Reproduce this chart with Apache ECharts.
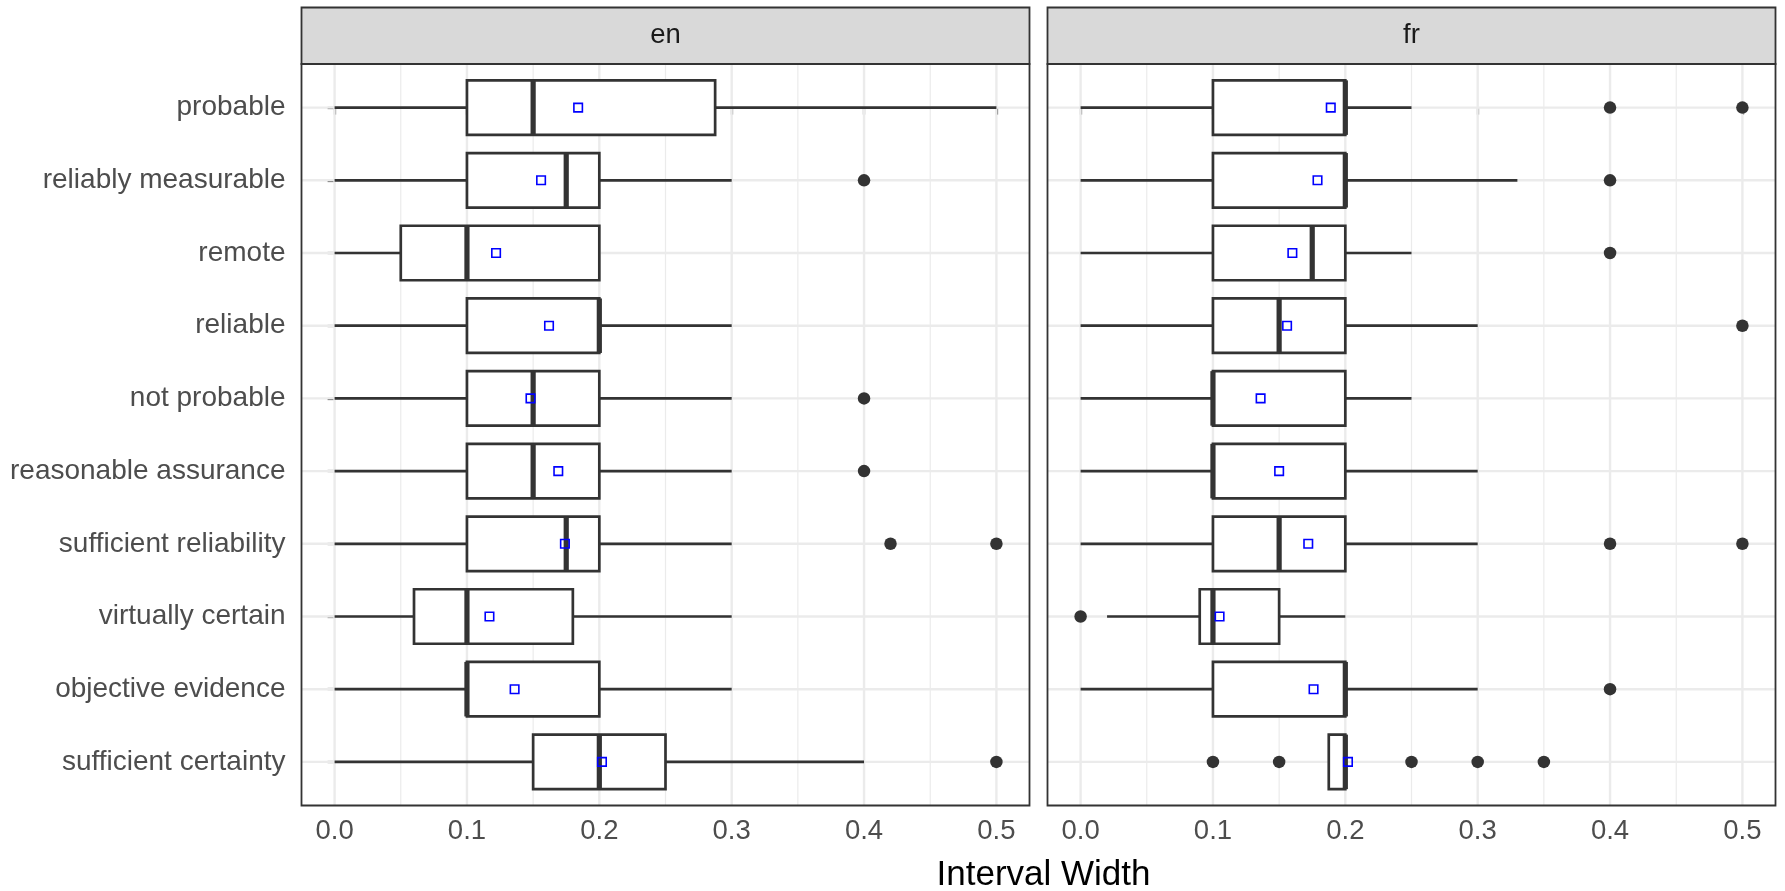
<!DOCTYPE html>
<html>
<head>
<meta charset="utf-8">
<script src="https://cdn.jsdelivr.net/npm/echarts@6/dist/echarts.min.js"></script>
<style>
html,body{margin:0;padding:0;background:#fff;}
#chart{width:1785px;height:891px;}
</style>
</head>
<body>
<div id="chart"></div>
<script>
// ---------- data ----------
const categories = ['probable','reliably measurable','remote','reliable','not probable',
  'reasonable assurance','sufficient reliability','virtually certain','objective evidence','sufficient certainty'];
const panels = ['en','fr'];
const xTicks = [0, 0.1, 0.2, 0.3, 0.4, 0.5];
const xMinor = [0.05, 0.15, 0.25, 0.35, 0.45];

const enLow  = [0, 0, 0, 0, 0, 0, 0, 0, 0, 0];
const enQ1   = [0.1, 0.1, 0.05, 0.1, 0.1, 0.1, 0.1, 0.06, 0.1, 0.15];
const enMed  = [0.15, 0.175, 0.1, 0.2, 0.15, 0.15, 0.175, 0.1, 0.1, 0.2];
const enQ3   = [0.2875, 0.2, 0.2, 0.2, 0.2, 0.2, 0.2, 0.18, 0.2, 0.25];
const enHigh = [0.5, 0.3, 0.2, 0.3, 0.3, 0.3, 0.3, 0.3, 0.3, 0.4];
const enMean = [0.184, 0.156, 0.122, 0.162, 0.148, 0.169, 0.174, 0.117, 0.136, 0.202];
const enOutliers = [[], [0.4], [], [], [0.4], [0.4], [0.42, 0.5], [], [], [0.5]];

const frLow  = [0, 0, 0, 0, 0, 0, 0, 0.02, 0, 0.1875];
const frQ1   = [0.1, 0.1, 0.1, 0.1, 0.1, 0.1, 0.1, 0.09, 0.1, 0.1875];
const frMed  = [0.2, 0.2, 0.175, 0.15, 0.1, 0.1, 0.15, 0.1, 0.2, 0.2];
const frQ3   = [0.2, 0.2, 0.2, 0.2, 0.2, 0.2, 0.2, 0.15, 0.2, 0.2];
const frHigh = [0.25, 0.33, 0.25, 0.3, 0.25, 0.3, 0.3, 0.2, 0.3, 0.2];
const frMean = [0.189, 0.179, 0.160, 0.156, 0.136, 0.150, 0.172, 0.105, 0.176, 0.202];
const frOutliers = [[0.4, 0.5], [0.4], [0.4], [0.5], [], [], [0.4, 0.5], [0], [0.4], [0.1, 0.15, 0.25, 0.3, 0.35]];

// ---------- build ----------
const FONT = "'Liberation Sans', Arial, sans-serif";
const DARK = '#333333';
const catIdx = categories.map((c, i) => i);

const langData = [
  {low: enLow, q1: enQ1, med: enMed, q3: enQ3, high: enHigh, mean: enMean, out: enOutliers},
  {low: frLow, q1: frQ1, med: frMed, q3: frQ3, high: frHigh, mean: frMean, out: frOutliers}
];

function gridLineRender(params, api) {
  const cs = params.coordSys;
  const kind = api.value(2);
  if (kind === 2) {
    const y = api.coord([0, api.value(1)])[1];
    return {type: 'line', shape: {x1: cs.x, y1: y, x2: cs.x + cs.width, y2: y},
      style: {stroke: '#EBEBEB', lineWidth: 2.4}};
  }
  const x = api.coord([api.value(0), 0])[0];
  return {type: 'line', shape: {x1: x, y1: cs.y, x2: x, y2: cs.y + cs.height},
    style: {stroke: '#EBEBEB', lineWidth: kind === 0 ? 2.4 : 1.2}};
}

function boxRender(params, api) {
  const c = api.value(0);
  const band = api.size([0, 1])[1];
  const half = band * 0.75 / 2;
  const y = api.coord([0, c])[1];
  const xl = api.coord([api.value(1), c])[0];
  const x1 = api.coord([api.value(2), c])[0];
  const xm = api.coord([api.value(3), c])[0];
  const x3 = api.coord([api.value(4), c])[0];
  const xh = api.coord([api.value(5), c])[0];
  const st = {stroke: DARK, lineWidth: 2.7, fill: null};
  const children = [];
  if (x1 - xl > 0.5) children.push({type: 'line', shape: {x1: xl, y1: y, x2: x1, y2: y}, style: st});
  if (xh - x3 > 0.5) children.push({type: 'line', shape: {x1: x3, y1: y, x2: xh, y2: y}, style: st});
  children.push({type: 'rect', shape: {x: x1, y: y - half, width: x3 - x1, height: 2 * half},
    style: {fill: '#fff', stroke: DARK, lineWidth: 2.7}});
  children.push({type: 'line', shape: {x1: xm, y1: y - half, x2: xm, y2: y + half},
    style: {stroke: DARK, lineWidth: 5.2}});
  return {type: 'group', children};
}

function frameRender(params, api) {
  const cs = params.coordSys;
  const sh = 56.5;
  return {type: 'group', children: [
    {type: 'rect', shape: {x: cs.x, y: cs.y - sh, width: cs.width, height: sh},
      style: {fill: '#D9D9D9', stroke: DARK, lineWidth: 1.8}},
    {type: 'text', style: {text: panels[api.value(2)],
      x: cs.x + cs.width / 2, y: cs.y - sh / 2, align: 'center', verticalAlign: 'middle',
      textAlign: 'center', textVerticalAlign: 'middle',
      fill: '#1A1A1A', font: '27.5px ' + FONT}},
    {type: 'rect', shape: {x: cs.x, y: cs.y, width: cs.width, height: cs.height},
      style: {fill: null, stroke: DARK, lineWidth: 1.8}}
  ]};
}

const grids = [
  {left: 301.5, top: 64, width: 728, height: 741.5},
  {left: 1047.5, top: 64, width: 728, height: 741.5}
];

const xAxes = [0, 1].map(g => ({
  type: 'value', gridIndex: g, min: -0.025, max: 0.525,
  axisLine: {show: false},
  axisTick: {show: true, length: 7, customValues: xTicks, lineStyle: {color: DARK, width: 2.2}},
  axisLabel: {customValues: xTicks, margin: 12, color: '#4D4D4D', fontSize: 27.5, fontFamily: FONT,
    formatter: v => v.toFixed(1)},
  splitLine: {show: false}
}));

const yAxes = [0, 1].map(g => ({
  type: 'value', gridIndex: g, min: -0.6, max: 9.6, inverse: true,
  axisLine: {show: false},
  axisTick: {show: g === 0, length: 7, customValues: catIdx, lineStyle: {color: DARK, width: 2.2}},
  axisLabel: {show: g === 0, customValues: catIdx, margin: 16, color: '#4D4D4D', fontSize: 28,
    fontFamily: FONT, formatter: v => categories[Math.round(v)] || ''},
  splitLine: {show: false}
}));

const series = [];
[0, 1].forEach(g => {
  const d = langData[g];
  const gl = [];
  xTicks.forEach(v => gl.push([v, 0, 0]));
  xMinor.forEach(v => gl.push([v, 0, 1]));
  catIdx.forEach(i => gl.push([0, i, 2]));
  series.push({type: 'custom', xAxisIndex: g, yAxisIndex: g, z: 1, silent: true,
    renderItem: gridLineRender, data: gl, encode: {x: 0, y: 1}});
  series.push({type: 'custom', xAxisIndex: g, yAxisIndex: g, z: 3, silent: true,
    renderItem: boxRender,
    data: catIdx.map(i => [i, d.low[i], d.q1[i], d.med[i], d.q3[i], d.high[i]]),
    encode: {x: [1, 2, 3, 4, 5], y: 0}});
  const outs = [];
  d.out.forEach((arr, i) => arr.forEach(v => outs.push([v, i])));
  series.push({type: 'scatter', xAxisIndex: g, yAxisIndex: g, z: 4, silent: true,
    symbol: 'circle', symbolSize: 12.5, itemStyle: {color: DARK, opacity: 1}, data: outs});
  series.push({type: 'scatter', xAxisIndex: g, yAxisIndex: g, z: 5, silent: true,
    symbol: 'rect', symbolSize: 8.5,
    itemStyle: {color: 'rgba(0,0,0,0)', borderColor: '#0000FF', borderWidth: 1.6, opacity: 1},
    data: catIdx.map(i => [d.mean[i], i])});
  series.push({type: 'custom', xAxisIndex: g, yAxisIndex: g, z: 6, silent: true,
    renderItem: frameRender, data: [[0, 0, g]], encode: {x: 0, y: 1}});
});

const chart = echarts.init(document.getElementById('chart'), null, {renderer: 'canvas'});
chart.setOption({
  animation: false,
  backgroundColor: '#fff',
  title: {text: 'Interval Width', left: 1038.5, top: 853, textAlign: 'center',
    textStyle: {color: '#000', fontSize: 35, fontWeight: 'normal', fontFamily: FONT}},
  grid: grids,
  xAxis: xAxes,
  yAxis: yAxes,
  series: series
});
</script>
</body>
</html>
